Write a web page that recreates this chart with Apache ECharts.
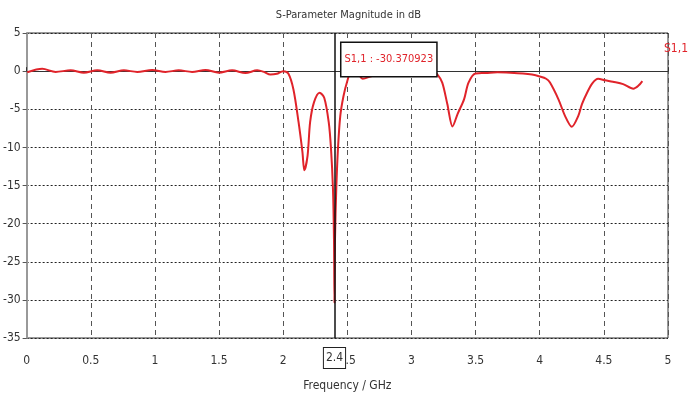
<!DOCTYPE html>
<html>
<head>
<meta charset="utf-8">
<script src="https://cdn.jsdelivr.net/npm/echarts@6/dist/echarts.min.js"></script>
<style>
  html, body { margin: 0; padding: 0; background: #fff; }
  #box { width: 697px; height: 397px; }
</style>
</head>
<body>
<div id="box"></div>
<script>
// frequency (GHz) and S1,1 (dB)
var freq = [
  0.005, 0.122, 0.226, 0.343, 0.446, 0.551, 0.654, 0.758, 0.862, 0.979,
  1.083, 1.186, 1.29, 1.394, 1.498, 1.602, 1.706, 1.797, 1.85, 1.9,
  1.95, 2.0, 2.04, 2.08, 2.12, 2.15, 2.165, 2.19, 2.21, 2.24,
  2.284, 2.32, 2.355, 2.373, 2.388, 2.396, 2.4, 2.404, 2.414, 2.427,
  2.445, 2.47, 2.5, 2.525, 2.575, 2.62, 2.7, 2.8, 2.9, 2.95,
  3.05, 3.11, 3.16, 3.2, 3.24, 3.28, 3.32, 3.36, 3.41, 3.445,
  3.5, 3.58, 3.67, 3.77, 3.87, 3.94, 4.0, 4.05, 4.08, 4.146,
  4.198, 4.25, 4.3, 4.33, 4.37, 4.41, 4.455, 4.51, 4.57, 4.65,
  4.73, 4.77, 4.8
];
var s11 = [
  -0.15, 0.3, -0.1, 0.1, -0.2, 0.1, -0.2, 0.1, -0.1, 0.15,
  -0.1, 0.1, -0.1, 0.15, -0.2, 0.1, -0.25, 0.1, -0.1, -0.45,
  -0.35, 0.0, -0.3, -2.4, -6.7, -10.6, -13.0, -11.1, -6.7, -4.1,
  -2.83, -3.5, -6.7, -10.2, -15.4, -22, -30.370923, -22, -15.4, -10.2,
  -5.9, -3.3, -1.3, -0.3, -0.25, -1.0, -0.6, -0.4, -0.3, -0.2,
  -0.15, -0.15, 0.1, -0.4, -1.5, -4.35, -7.25, -5.6, -3.7, -1.5,
  -0.3, -0.25, -0.15, -0.2, -0.3, -0.45, -0.7, -1.0, -1.5, -3.7,
  -5.9, -7.3, -5.9, -4.3, -2.8, -1.6, -1.0, -1.2, -1.4, -1.7,
  -2.3, -1.9, -1.3
];
var markerFreq = 2.4;
var markerValue = "-30.370923";

var font = "'DejaVu Sans Condensed', 'Liberation Sans Narrow', sans-serif";
var red = "#e0232a";

var points = freq.map(function (f, i) {
  return [f, s11[i]];
});

var myChart = echarts.init(document.getElementById("box"));
var option = {
  animation: false,
  title: {
    text: "S-Parameter Magnitude in dB",
    left: "center",
    top: 5,
    textStyle: { fontFamily: font, fontSize: 11, fontWeight: "normal", color: "#333" }
  },
  legend: {
    data: ["S1,1"],
    right: 4,
    top: 37,
    icon: "none",
    itemWidth: 0,
    textStyle: { fontFamily: font, fontSize: 12, color: red }
  },
  grid: {
    left: 25,
    right: 29,
    top: 33,
    bottom: 56,
    show: true,
    borderColor: "#333",
    borderWidth: 1
  },
  xAxis: {
    type: "value",
    min: 0,
    max: 5,
    interval: 0.5,
    name: "Frequency / GHz",
    nameLocation: "middle",
    nameGap: 42,
    nameTextStyle: { fontFamily: font, fontSize: 12, color: "#333" },
    axisLine: { lineStyle: { color: "#333", width: 1 } },
    axisTick: { inside: true, length: 4, lineStyle: { color: "#333" } },
    axisLabel: { fontFamily: font, fontSize: 12, color: "#333", margin: 17 },
    splitLine: { show: true, lineStyle: { color: "#555", type: [5, 4], width: 1 } }
  },
  yAxis: {
    type: "value",
    min: -35,
    max: 5,
    interval: 5,
    axisLine: { show: true, lineStyle: { color: "#999", width: 2 } },
    axisTick: { show: true, length: 4, lineStyle: { color: "#555" } },
    axisLabel: { fontFamily: font, fontSize: 12, color: "#333", margin: 6 },
    splitLine: { show: true, lineStyle: { color: "#222", type: [2, 2], width: 1 } }
  },
  series: [
    {
      name: "S1,1",
      type: "line",
      data: points,
      smooth: 0.3,
      showSymbol: false,
      lineStyle: { color: red, width: 2 },
      itemStyle: { color: red },
      markLine: {
        silent: true,
        symbol: "none",
        lineStyle: { color: "#111", type: "solid", width: 1.5 },
        label: {
          show: true,
          position: "start",
          distance: 10,
          formatter: String(markerFreq),
          fontFamily: font,
          fontSize: 12,
          color: "#333",
          backgroundColor: "#fff",
          borderColor: "#222",
          borderWidth: 1,
          padding: [4, 2]
        },
        data: [{ xAxis: markerFreq }]
      },
      markPoint: {
        silent: true,
        symbol: "rect",
        symbolSize: 0,
        label: {
          show: true,
          position: [7, 10],
          formatter: "S1,1 : " + markerValue,
          fontFamily: font,
          fontSize: 11,
          color: red,
          backgroundColor: "#fff",
          borderColor: "#111",
          borderWidth: 1.5,
          padding: [11, 3]
        },
        data: [{ coord: [markerFreq, 5] }]
      }
    }
  ]
};
myChart.setOption(option);
</script>
</body>
</html>
